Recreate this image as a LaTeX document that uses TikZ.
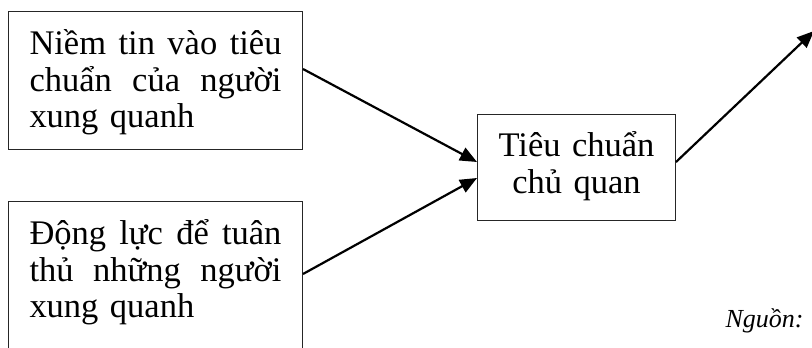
\documentclass[tikz,border=0pt]{standalone}
\usepackage{fontspec}
\setmainfont{Liberation Serif}
\usetikzlibrary{arrows.meta,positioning}

\begin{document}
\begin{tikzpicture}[
  x=1pt, y=-1pt,
  factor/.style={rectangle, draw=black!85, line width=1pt,
    text width=252pt, inner xsep=21pt, inner ysep=0pt,
    text height=43pt, align=left,
    font=\fontsize{34.5}{36.5}\selectfont},
  result/.style={factor, text width=156pt, text height=42pt,
    align=center},
  arrow/.style={-{Triangle[length=17pt,width=14pt]}, line width=2.2pt},
  source/.style={font=\fontsize{26}{30}\selectfont\itshape}
]
\useasboundingbox (0,0) rectangle (812,348);

% Nodes
\node[factor, text depth=95pt, anchor=north west] (belief) at (8,11)
  {Niềm\hfill tin\hfill vào\hfill tiêu\\
   chuẩn\hfill của\hfill người\\
   xung quanh};
\node[factor, text depth=117pt, anchor=north west] (motive) at (8,201)
  {Động\hfill lực\hfill để\hfill tuân\\
   thủ\hfill những\hfill người\\
   xung quanh};
\node[result, text depth=64pt, anchor=north west] (norm) at (477,114)
  {Tiêu chuẩn\\chủ quan};
\coordinate (intent) at (814,31);
\node[source, anchor=base west] (ref) at (722,327) {Nguồn:};

% Arrows
\draw[arrow] ([yshift=-58pt]belief.north east) -- ([yshift=-48pt]norm.north west);
\draw[arrow] ([yshift=-73pt]motive.north east) -- ([yshift=-64pt]norm.north west);
\draw[arrow] ([yshift=-48pt]norm.north east) -- (intent);
\end{tikzpicture}
\end{document}
